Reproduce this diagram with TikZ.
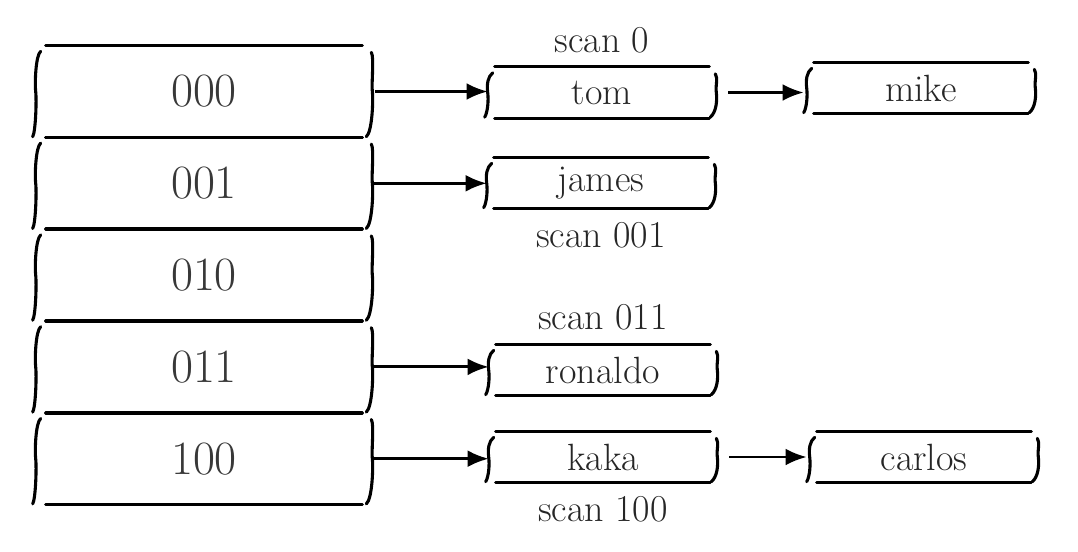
\documentclass[tikz,border=0pt]{standalone}
\usetikzlibrary{positioning, calc, arrows.meta}
\tikzset{>={Latex[length=15pt,width=12pt]}}

\begin{document}
\begin{tikzpicture}
    [
        x=0.025cm, y=-0.025cm, label distance=2.2mm,
        bucket_node/.style={minimum width=8.4cm, minimum height=2.295cm, inner sep=0pt, text=black!78, font=\fontsize{34}{40}\selectfont},
        entry_node/.style={minimum width=5.7cm, minimum height=1.27cm, inner sep=0pt, text=black!85, font=\fontsize{27}{32}\selectfont},
        every label/.style={text=black!85, font=\fontsize{27}{32}\selectfont},
        sketch/.style={line width=2.2pt, line cap=round},
        link/.style={->, line width=2pt},
    ]

  \useasboundingbox (0,0) rectangle (1078,552);

  \node[bucket_node] (B0) at (204,91.5) {000};
  \node[bucket_node] (B1) at (204,183.3) {001};
  \node[bucket_node] (B2) at (204,275.1) {010};
  \node[bucket_node] (B3) at (204,366.9) {011};
  \node[bucket_node] (B4) at (204,458.7) {100};

  \node[entry_node,label=above:{scan 0}] (E0) at (602,92.5) {tom};
  \node[entry_node] (E0n) at (921,88) {mike};
  \node[entry_node,label=below:{scan 001}] (E1) at (601,183) {james};
  \node[entry_node,label=above:{scan 011}] (E3) at (603,370) {ronaldo};
  \node[entry_node,label=below:{scan 100}] (E4) at (603,457) {kaka};
  \node[entry_node] (E4n) at (924,457) {carlos};

  % hand drawn outlines
  \foreach \n/\d in {B0/10,B1/10,B2/10,B3/10,B4/10,E0/7,E0n/7,E1/7,E3/7,E4/7,E4n/7} {
    \draw[sketch] ($(\n.north west)+(\d,0)$) -- ($(\n.north east)+(-\d,0)$);
    \draw[sketch] ($(\n.south west)+(\d,0)$) -- ($(\n.south east)+(-\d,0)$);
    \draw[sketch] ($(\n.north west)+(5,6)$) .. controls ($(\n.north west)+(0,10)$) and ($(\n.west)+(-1,-8)$) .. (\n.west)
                  .. controls ($(\n.west)+(1,8)$) and ($(\n.south west)+(0,-6)$) .. ($(\n.south west)+(-3,-1)$);
    \draw[sketch] ($(\n.north east)+(-1,7)$) .. controls ($(\n.north east)+(2,12)$) and ($(\n.east)+(-1,-8)$) .. (\n.east)
                  .. controls ($(\n.east)+(1,8)$) and ($(\n.south east)+(0,-6)$) .. ($(\n.south east)+(-6,-1)$);
  }

  \draw[link] ($(B0.east)+(3,0)$) -- (B0.east -| E0.west);
  \draw[link] (B1.east) -- (B1.east -| E1.west);
  \draw[link] (B3.east) -- (B3.east -| E3.west);
  \draw[link] (B4.east) -- (B4.east -| E4.west);
  \draw[link] ($(E0.east)+(12,0)$) -- ($(E0.east -| E0n.west)+(-3,0)$);
  \draw[link] ($(E4.east)+(12,0)$) -- ($(E4.east -| E4n.west)+(-3,0)$);
\end{tikzpicture}
\end{document}
